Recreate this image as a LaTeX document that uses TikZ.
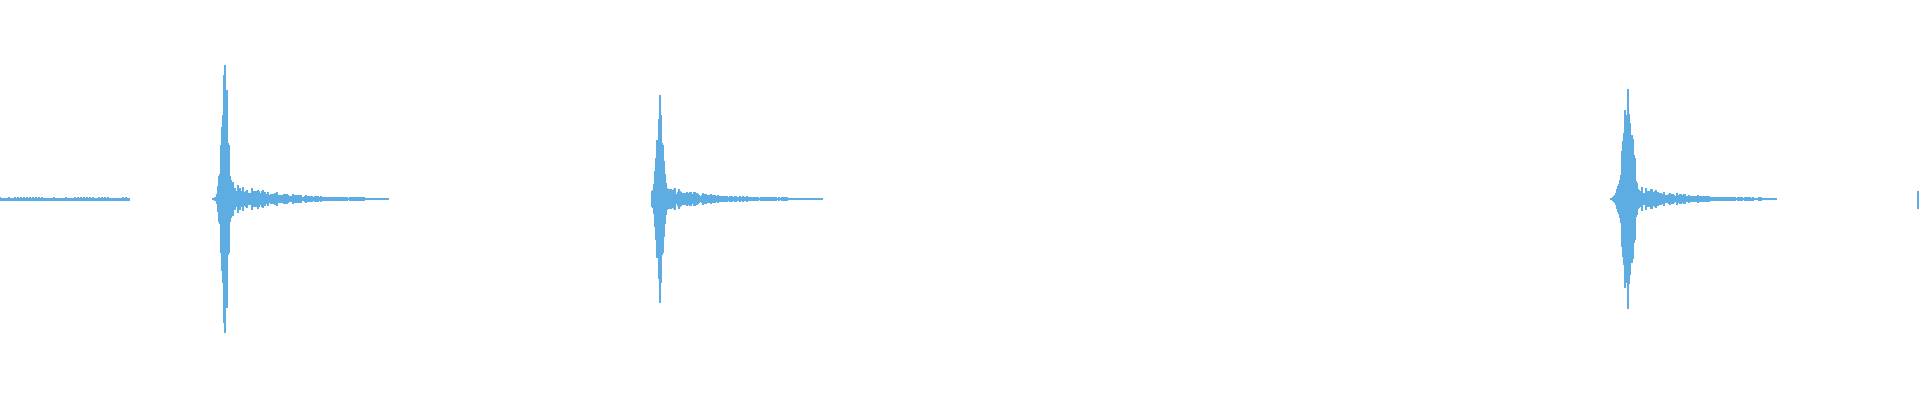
\documentclass[tikz,border=0pt]{standalone}
\definecolor{wave}{RGB}{94,173,226}
\begin{document}
\begin{tikzpicture}[x=1pt,y=1pt,bar/.style={wave,line width=1.1pt}]
\useasboundingbox (0,0) rectangle (1920,400);
\pgfmathsetseed{7}
% quiet lead-in
\fill[wave] (0,199.5) rectangle (130,202.5);
\foreach \x in {0,3,...,128}{\pgfmathsetmacro\a{1+1.5*rnd}\draw[bar] (\x,201-\a) -- (\x,201+\a);}
% bursts: onset, peak, amplitude, tail amp, tail length, width
\foreach \xs/\xp/\A/\T/\L/\w in {213/225/134/22/175/4.5, 652/660/104/15/170/5, 1611/1628/110/16/165/7}{
  \draw[bar] (\xp,201-\A) -- (\xp,201+\A);
  \foreach \i in {0,...,\L}{
    \pgfmathsetmacro\x{\xs+\i}
    \pgfmathsetmacro\d{\x-\xp}
    \pgfmathsetmacro\sp{\A*exp(-(\d/\w)^2)*(0.55+0.45*rnd)}
    \pgfmathsetmacro\tl{(\d>0)*\T*exp(-\d/40)*(0.3+0.7*rnd)}
    \pgfmathsetmacro\a{max(\sp,\tl)+1}
    \draw[bar] (\x,201-\a) -- (\x,201+\a);
  }
}
\fill[wave] (1917,191) rectangle (1919,209);
\end{tikzpicture}
\end{document}
